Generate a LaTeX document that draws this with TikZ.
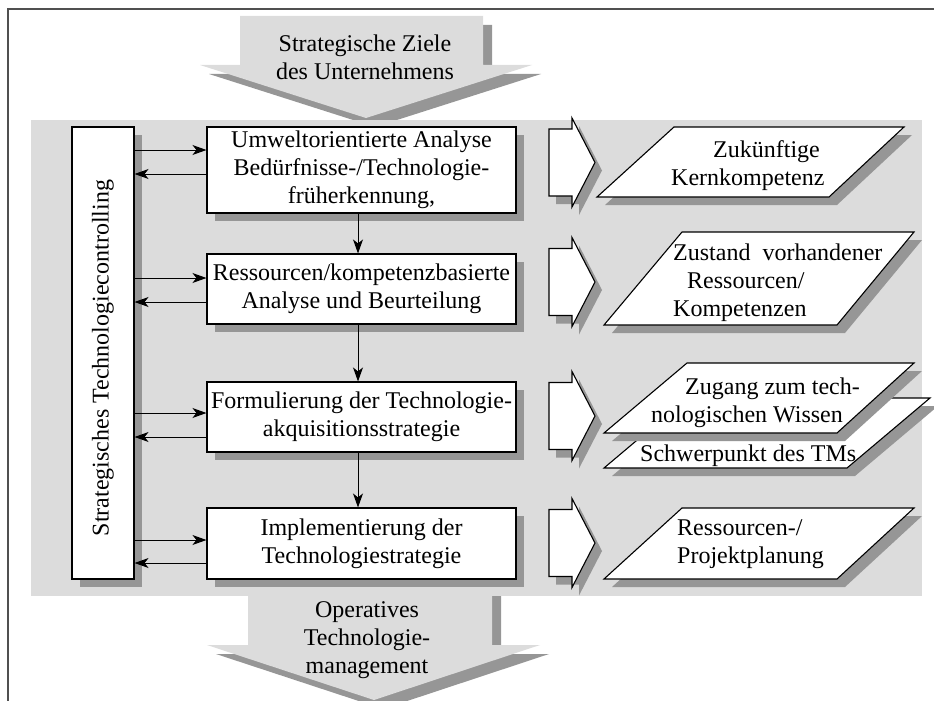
\documentclass[tikz,border=0pt]{standalone}
\usepackage{fontspec}
\setmainfont{Liberation Serif}
\usetikzlibrary{arrows.meta,shadows}
\definecolor{panelgray}{RGB}{220,220,220}
\definecolor{shadowgray}{RGB}{150,150,150}
\definecolor{framegray}{RGB}{80,80,80}
\begin{document}
\begin{tikzpicture}[x=1pt,y=-1pt,
  shd/.style={drop shadow={shadow xshift=8pt,shadow yshift=-8pt,fill=shadowgray,opacity=1}},
  bigarrow/.style={fill=panelgray,draw=none,drop shadow={shadow xshift=9pt,shadow yshift=-9pt,fill=shadowgray,opacity=1}},
  txt/.style={font=\fontsize{24}{28}\selectfont,inner sep=0pt},
  stepbox/.style={draw=black,line width=1.1pt,fill=white,shd,minimum width=309pt,txt,align=center},
  ctrlbox/.style={draw=black,line width=1.1pt,fill=white,shd,minimum width=62pt,minimum height=452pt,inner sep=0pt},
  outbox/.style={draw=black,line width=1.1pt,fill=white,line join=miter,shd},
  flowarrow/.style={draw=black,line width=1.1pt,fill=white,line join=miter,drop shadow={shadow xshift=7pt,shadow yshift=-8pt,fill=shadowgray,opacity=1}},
  link/.style={draw=black,line width=1pt,-{Stealth[length=14pt,width=10pt,inset=4pt]}}
]
\useasboundingbox (0,0) rectangle (934,701);

% outer frame
\draw[framegray,line width=2.5pt] (8,705) -- (8,9) -- (938,9);

% big downward arrows (input and output of the process)
\path[bigarrow] (248,560) -- (492,560) -- (492,645) -- (540,645) -- (374,700) -- (207,645) -- (248,645) -- cycle;
\path[bigarrow] (240,16) -- (483,16) -- (483,65) -- (532,65) -- (366,118) -- (200,65) -- (240,65) -- cycle;

% grey panel
\fill[panelgray] (31,120) rectangle (922,596);

\node[txt,align=center] (goals) at (365,57) {Strategische Ziele\\des Unternehmens};
\node[txt,align=center] (ops) at (367,640) {Operatives\\Technologie-\\management};

% controlling bar
\node[ctrlbox] (ctrl) at (103,353) {};
\node[txt,rotate=90] (ctrltext) at (103,358) {Strategisches Technologiecontrolling};

% process steps
\node[stepbox,minimum height=86pt] (b1) at (361.5,170) {Umweltorientierte Analyse\\Bedürfnisse-/Technologie-\\früherkennung,};
\node[stepbox,minimum height=70pt] (b2) at (361.5,289) {Ressourcen/kompetenzbasierte\\Analyse und Beurteilung};
\node[stepbox,minimum height=70pt] (b3) at (361.5,417) {Formulierung der Technologie-\\akquisitionsstrategie};
\node[stepbox,minimum height=71pt] (b4) at (361.5,543.5) {Implementierung der\\Technologiestrategie};

% block arrows towards the results
\foreach \cy in {162.5,282,416,543}{
  \path[flowarrow] (549,\cy-33.5) -- (572,\cy-33.5) -- (572,\cy-44.5) -- (595,\cy)
    -- (572,\cy+44.5) -- (572,\cy+33.5) -- (549,\cy+33.5) -- cycle;
}

% results
\path[outbox] (674,127) -- (904,127) -- (829,197) -- (597,197) -- cycle;
\node[txt,anchor=west,align=left] (r1) at (671,166) {\hspace*{42pt}Zukünftige\\Kernkompetenz};

\path[outbox] (682,232) -- (914,232) -- (837,325) -- (604,325) -- cycle;
\node[txt,anchor=west,align=left] (r2) at (673,283) {Zustand\ \ vorhandener\\\hspace*{14pt}Ressourcen/\\Kompetenzen};

\path[outbox] (687,398) -- (930,398) -- (847,468) -- (604,468) -- cycle;
\node[txt,anchor=west] (r3b) at (640,456) {Schwerpunkt des TMs};
\path[outbox] (687,363) -- (914,363) -- (837,433) -- (604,433) -- cycle;
\node[txt,anchor=west,align=left] (r3) at (651,403) {\hspace*{34pt}Zugang zum tech-\\nologischen Wissen};

\path[outbox] (682,508) -- (914,508) -- (837,579) -- (604,579) -- cycle;
\node[txt,anchor=west,align=left] (r4) at (677,544) {Ressourcen-/\\Projektplanung};

% vertical flow between the steps
\coordinate (v) at (358,0);
\draw[link] (b1.south -| v) -- (b2.north -| v);
\draw[link] (b2.south -| v) -- (b3.north -| v);
\draw[link] (b3.south -| v) -- (b4.north -| v);

% exchange with the controlling bar
\foreach \ya/\yb/\b in {150/174/b1,278/302/b2,413/437/b3,540/563/b4}{
  \coordinate (ha) at (0,\ya);
  \coordinate (hb) at (0,\yb);
  \draw[link] (ctrl.east |- ha) -- (\b.west |- ha);
  \draw[link] (\b.west |- hb) -- (ctrl.east |- hb);
}
\end{tikzpicture}
\end{document}
